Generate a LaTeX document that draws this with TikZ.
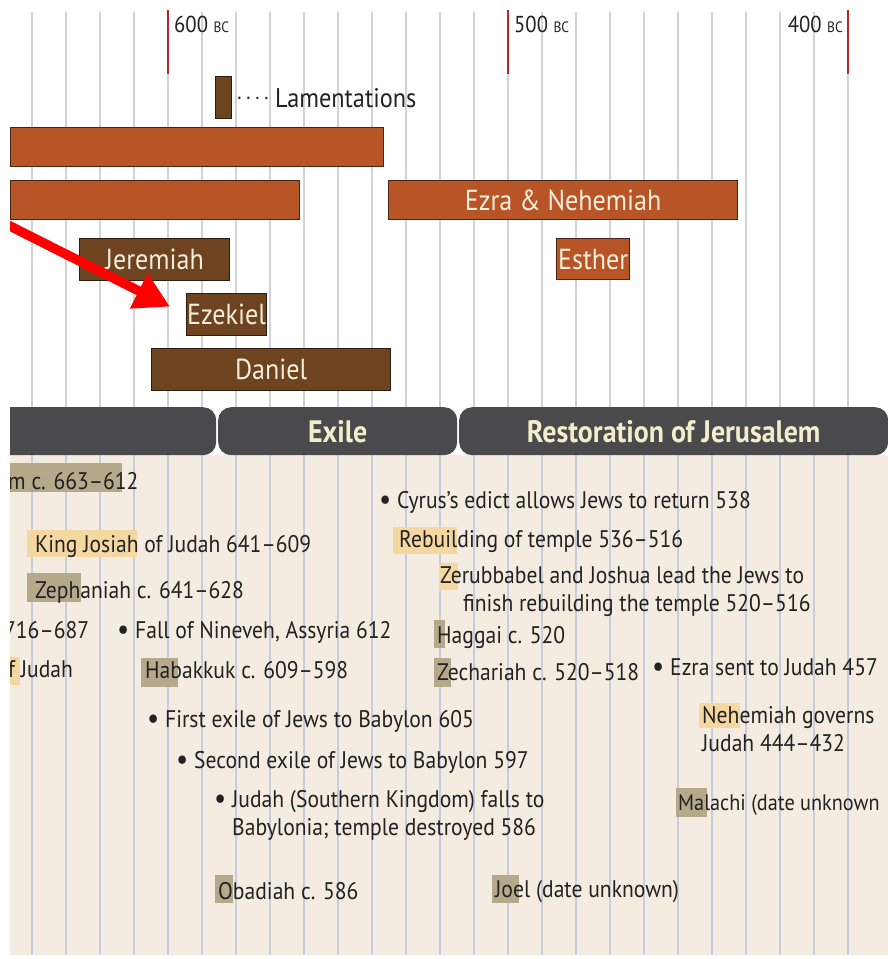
\documentclass[tikz,border=0pt]{standalone}
\usepackage{fontspec}
\setmainfont[FakeStretch=0.9]{PT Sans}
\usetikzlibrary{positioning,arrows.meta,calc}

\definecolor{rust}{HTML}{B85527}
\definecolor{rustline}{HTML}{4A2412}
\definecolor{umber}{HTML}{6E4320}
\definecolor{umberline}{HTML}{2E1D0E}
\definecolor{cream}{HTML}{F6EEDC}
\definecolor{slate}{HTML}{4A4A4C}
\definecolor{bannertext}{HTML}{F4EDCB}
\definecolor{paper}{HTML}{F4ECE0}
\definecolor{rule}{HTML}{D2D3DA}
\definecolor{rulelow}{HTML}{C9CCDA}
\definecolor{tick}{HTML}{B3262A}
\definecolor{ink}{HTML}{222222}
\definecolor{hlgrey}{HTML}{B5A98C}
\definecolor{hlgold}{HTML}{F5D7A2}

\tikzset{
  rustbar/.style={draw=rustline,fill=rust,line width=1.3pt,inner sep=0pt,anchor=north west,text=cream,font=\fontsize{29}{30}\selectfont},
  brownbar/.style={rustbar,draw=umberline,fill=umber},
  banner/.style={fill=slate,rounded corners=13pt,inner sep=0pt,minimum height=48pt,anchor=north west,text=bannertext,font=\bfseries\fontsize{31}{32}\selectfont},
  event/.style={anchor=base west,inner sep=0pt,text=ink,font=\fontsize{24}{28}\selectfont,align=left},
  yearlbl/.style={anchor=base west,inner sep=0pt,text=ink,font=\fontsize{23}{23}\selectfont},
  redarrow/.style={draw=red,line width=9.5pt,-{Triangle[length=35pt,width=37pt]}},
}
\newcommand{\bcsmall}{{\fontsize{15}{15}\selectfont BC}}
\newcommand{\dotbul}{{\fontsize{30}{28}\selectfont\raisebox{-1.5pt}{\textbullet}}}

\begin{document}
\begin{tikzpicture}[x=1pt,y=-1pt]
\useasboundingbox (0,0) rectangle (888,959);
\begin{scope}
\clip (10,0) rectangle (888,959);
\fill[paper] (10,455) rectangle (888,955);
% decade rules
\foreach \k in {-4,...,20}{
  \draw[rule,line width=1.8pt] (168+34*\k,12) -- (168+34*\k,407);
  \draw[rulelow,line width=1.8pt] (168+34*\k,455) -- (168+34*\k,955);
}
\foreach \x in {168,508,848}
  \draw[tick,line width=2.6pt] (\x,10) -- (\x,74);
\node[yearlbl] (bc600) at (174,32) {600 \bcsmall};
\node[yearlbl] (bc500) at (514,32) {500 \bcsmall};
\node[yearlbl,anchor=base east] (bc400) at (843,32) {400 \bcsmall};

% books
\node[brownbar,minimum width=16pt,minimum height=42pt] (lament) at (215,76) {};
\node[event,anchor=west,font=\fontsize{27}{27}\selectfont] (lamentlabel) at (275,98) {Lamentations};
\draw[ink,line width=2.2pt,dash pattern=on 2pt off 7pt,shorten <=6pt,shorten >=3pt] (lament.east) -- (lamentlabel.west);
\node[rustbar,minimum width=373pt,minimum height=39pt] (judahbar) at (10,127) {};
\node[rustbar,minimum width=289pt,minimum height=39pt] (kingsbar) at (10,180) {};
\node[rustbar,minimum width=349pt,minimum height=39pt] (ezraneh) at (388,180) {Ezra \& Nehemiah};
\node[brownbar,minimum width=150pt,minimum height=42pt] (jeremiah) at (79,238) {Jeremiah};
\node[rustbar,minimum width=73pt,minimum height=41pt] (esther) at (556,238) {Esther};
\node[brownbar,minimum width=80pt,minimum height=42pt] (ezekiel) at (186,293) {Ezekiel};
\node[brownbar,minimum width=239pt,minimum height=42pt] (daniel) at (151,348) {Daniel};

\coordinate (arrowtail) at (4,223);
\draw[redarrow] (arrowtail) -- ([shift={(-16,-8)}]ezekiel.west);

% periods
\node[banner,minimum width=226pt] (preexile) at (-10,407) {};
\node[banner,minimum width=239pt] (exile) at (218,407) {Exile};
\node[banner,minimum width=429pt] (restoration) at (459,407) {Restoration of Jerusalem};

% highlights
\fill[hlgrey] (10,463) rectangle (122,492);
\fill[hlgold] (27,530) rectangle (137,557);
\fill[hlgrey] (27,573) rectangle (81,602);
\fill[hlgold] (10,657) rectangle (20,685);
\fill[hlgrey] (141,658) rectangle (178,687);
\fill[hlgrey] (215,875) rectangle (233,903);
\fill[hlgold] (393,527) rectangle (457,554);
\fill[hlgold] (439,563) rectangle (458,590);
\fill[hlgrey] (434,620) rectangle (445,648);
\fill[hlgrey] (434,658) rectangle (451,687);
\fill[hlgold] (699,703) rectangle (740,728);
\fill[hlgrey] (676,788) rectangle (707,817);
\fill[hlgrey] (492,875) rectangle (519,903);

% events
\node[event] (nahum) at (8,489) {m c. 663--612};
\node[event] (josiah) at (35,552) {King Josiah of Judah 641--609};
\node[event] (zephaniah) at (35,598) {Zephaniah c. 641--628};
\node[event] (hezekiah) at (4,638) {716--687};
\node[event] (nineveh) at (117,638) {\dotbul\ Fall of Nineveh, Assyria 612};
\node[event] (ofjudah) at (8,677) {f Judah};
\node[event] (habakkuk) at (145,678) {Habakkuk c. 609--598};
\node[event] (exile605) at (147,727) {\dotbul\ First exile of Jews to Babylon 605};
\node[event] (exile597) at (176,768) {\dotbul\ Second exile of Jews to Babylon 597};
\node[event] (fall586) at (214,835) {\dotbul\ Judah (Southern Kingdom) falls to\\\phantom{\dotbul\ }Babylonia; temple destroyed 586};
\node[event] (obadiah) at (218,899) {Obadiah c. 586};
\node[event] (cyrus) at (379,508) {\dotbul\ Cyrus’s edict allows Jews to return 538};
\node[event] (rebuild) at (399,547) {Rebuilding of temple 536--516};
\node[event] (zerubbabel) at (440,611) {Zerubbabel and Joshua lead the Jews to\\\hspace{23pt}finish rebuilding the temple 520--516};
\node[event] (haggai) at (437,643) {Haggai c. 520};
\node[event] (zechariah) at (437,680) {Zechariah c. 520--518};
\node[event] (ezra457) at (652,675) {\dotbul\ Ezra sent to Judah 457};
\node[event] (nehemiah) at (702,751) {Nehemiah governs\\Judah 444--432};
\node[event,font=\fontsize{22.5}{28}\selectfont] (malachi) at (678,810) {Malachi (date unknown};
\node[event] (joel) at (495,897) {Joel (date unknown)};
\end{scope}
\end{tikzpicture}
\end{document}
